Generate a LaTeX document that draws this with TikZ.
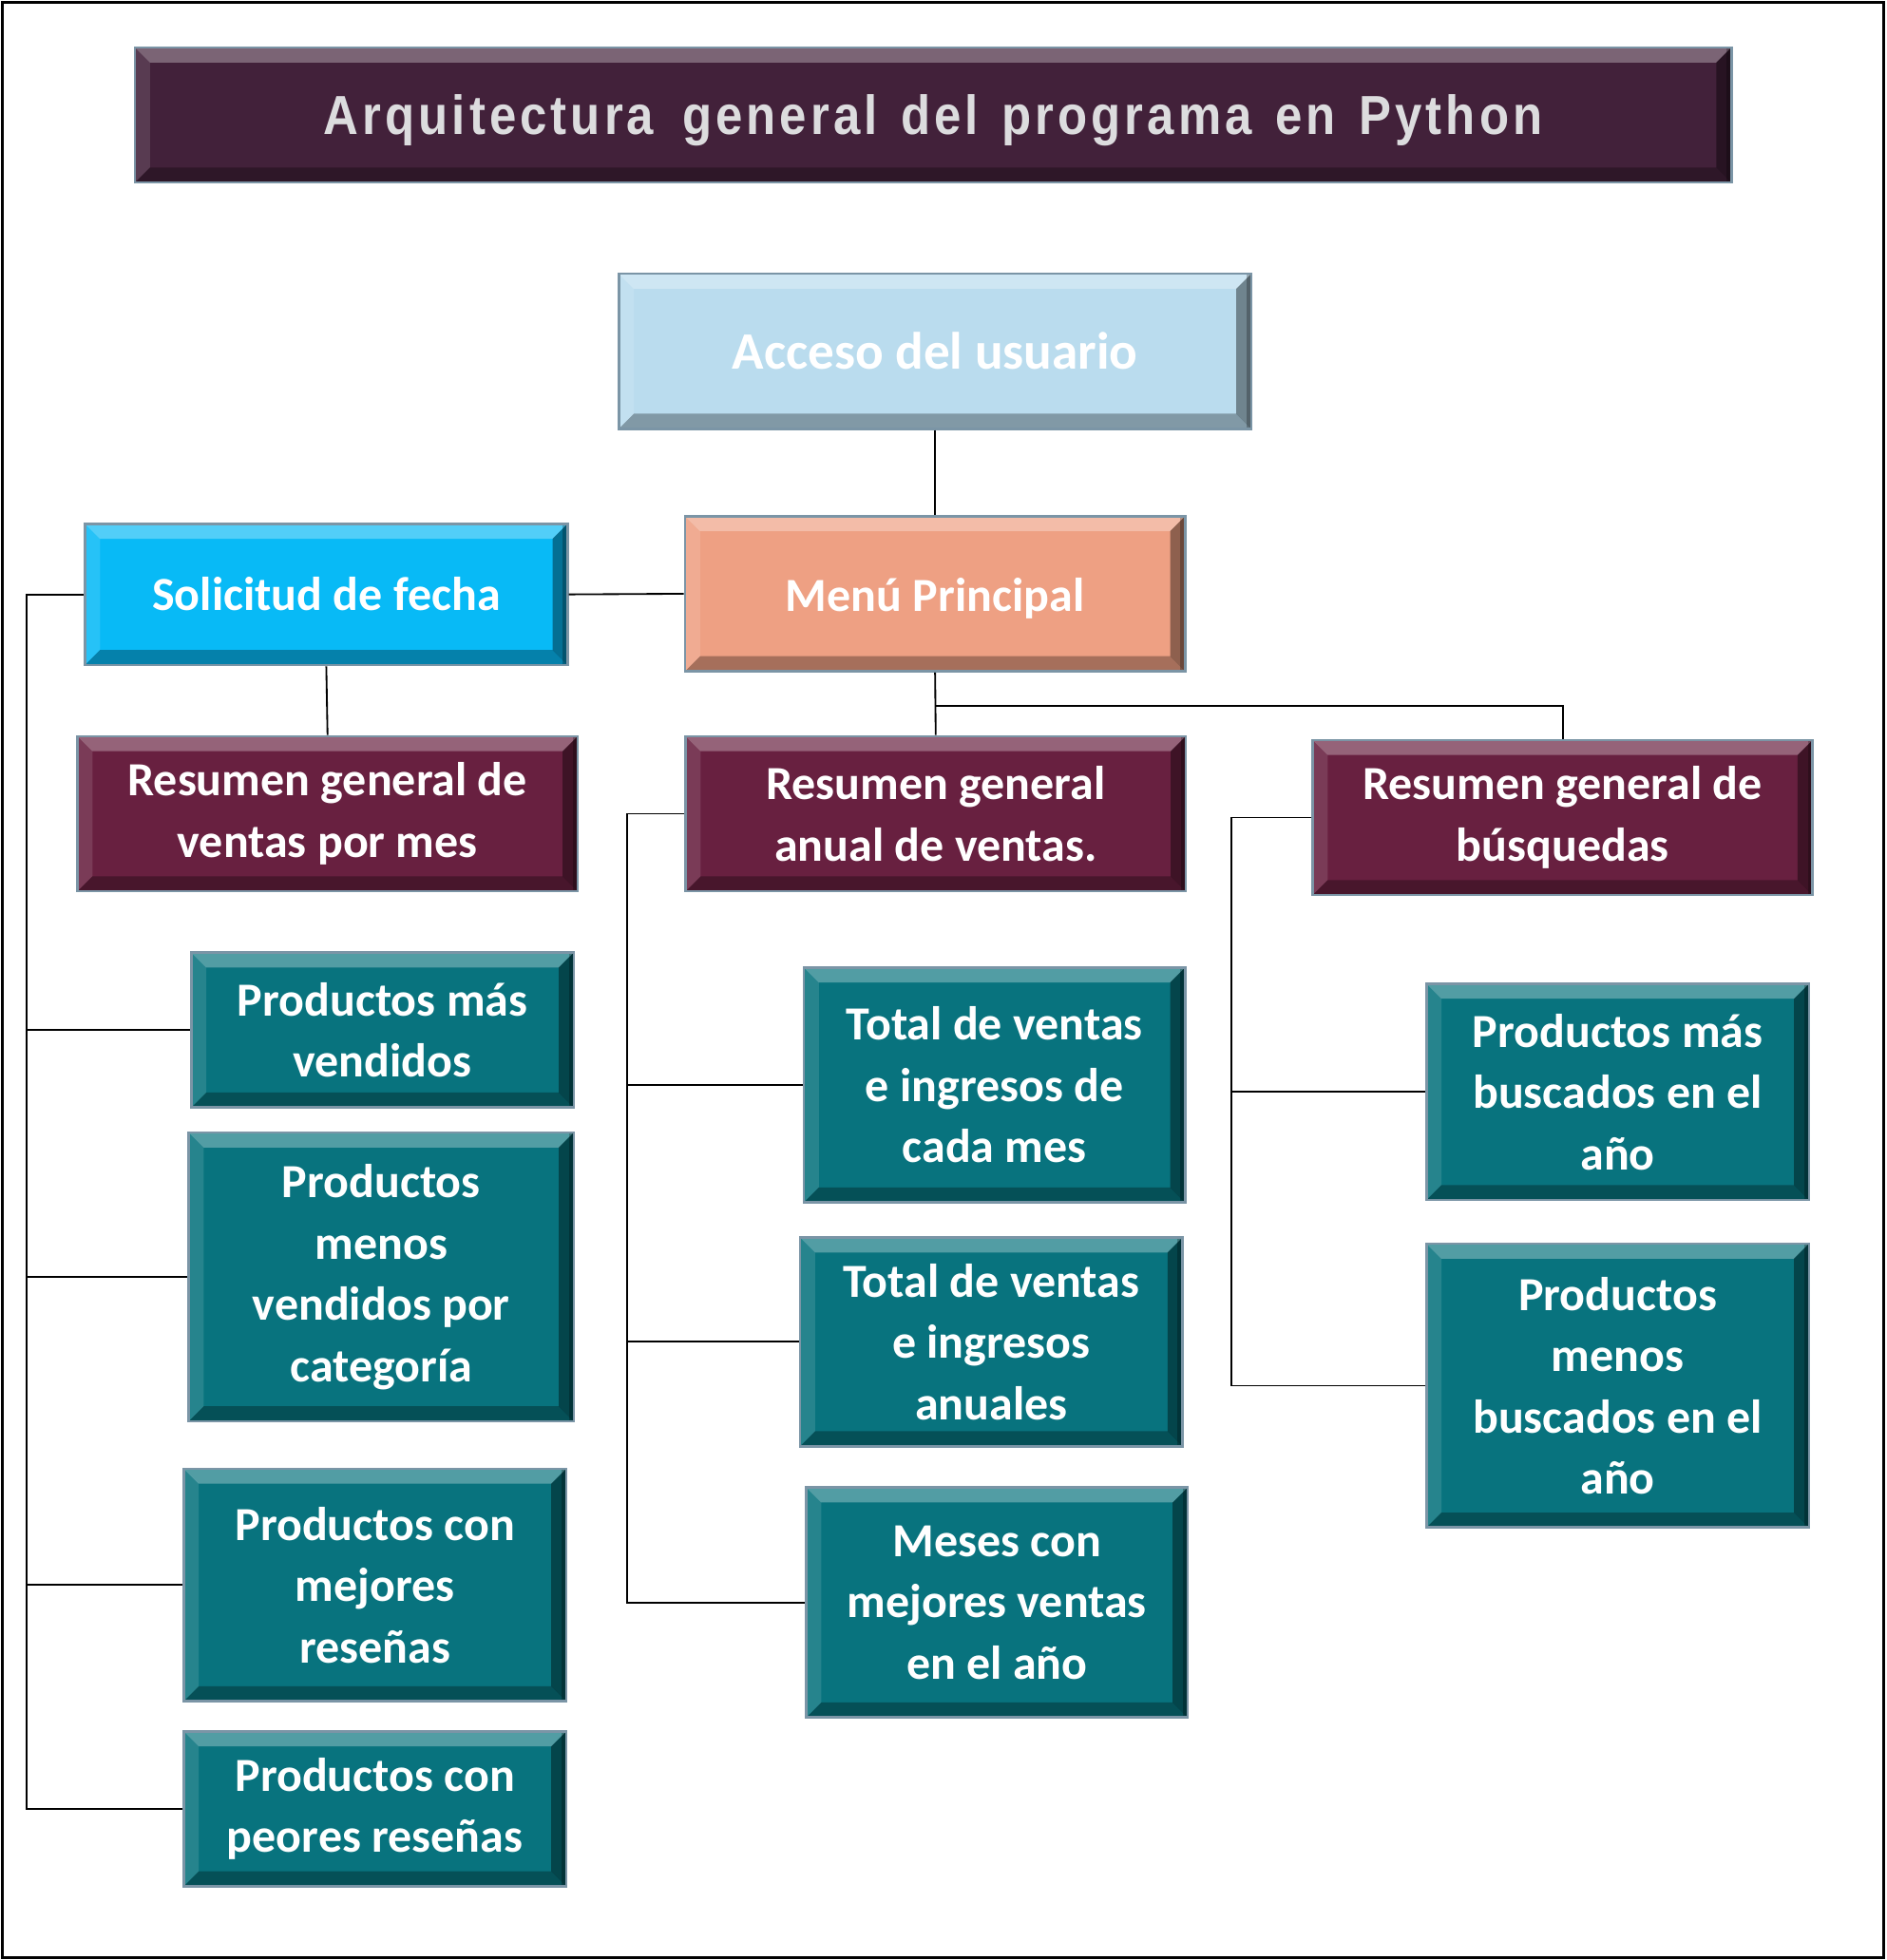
\documentclass[tikz,border=0pt]{standalone}
\usepackage{fontspec}
\setmainfont{Carlito}
\newfontfamily\titlefont[FakeStretch=0.88,LetterSpace=7,WordSpace=1.35]{Liberation Sans}
\usepackage{xcolor}
\usetikzlibrary{positioning, calc}
\definecolor{TitlePlum}{RGB}{66,33,58}
\definecolor{TitleText}{RGB}{220,220,222}
\definecolor{LightBlue}{RGB}{186,220,238}
\definecolor{Salmon}{RGB}{238,160,131}
\definecolor{SkyBlue}{RGB}{8,186,246}
\definecolor{Wine}{RGB}{104,32,64}
\definecolor{Teal}{RGB}{8,115,126}
\definecolor{EdgeGray}{RGB}{123,149,166}
\tikzset{
  % bisel de las cajas
  bevel/.style={path picture={
    \coordinate (bnw) at (path picture bounding box.north west);
    \coordinate (bne) at (path picture bounding box.north east);
    \coordinate (bsw) at (path picture bounding box.south west);
    \coordinate (bse) at (path picture bounding box.south east);
    \fill[white,opacity=.30] (bnw) -- (bne) -- ([shift={(-6pt,-6pt)}]bne) -- ([shift={(6pt,-6pt)}]bnw) -- cycle;
    \fill[white,opacity=.12] (bnw) -- ([shift={(6pt,-6pt)}]bnw) -- ([shift={(6pt,6pt)}]bsw) -- (bsw) -- cycle;
    \fill[black,opacity=.30] (bsw) -- ([shift={(6pt,6pt)}]bsw) -- ([shift={(-6pt,6pt)}]bse) -- (bse) -- cycle;
    \fill[black,opacity=.40] (bne) -- (bse) -- ([shift={(-6pt,6pt)}]bse) -- ([shift={(-6pt,-6pt)}]bne) -- cycle;
    \fill[black,opacity=.25] (bne) -- (bse) -- ([xshift=-2pt]bse) -- ([xshift=-2pt]bne) -- cycle;
  }},
  % cajas
  box/.style={draw=EdgeGray,line width=1pt,bevel,text=white,align=center,inner sep=0pt,
    font=\bfseries\fontsize{19}{24.5}\selectfont},
  box size/.style 2 args={minimum width=#1,minimum height=#2},
  box title/.style={box,fill=TitlePlum,text=TitleText,font=\titlefont\bfseries\fontsize{22}{26}\selectfont},
  box sum/.style={box,fill=Wine},
  box item/.style={box,fill=Teal},
  % conectores
  conn/.style={line width=0.7pt,black}
}
\begin{document}
\begin{tikzpicture}[x=0.5pt,y=-0.5pt]
  \useasboundingbox (0,0) rectangle (1509,1568);
  \draw[line width=1.1pt] (2,2) rectangle (1507,1566);

  \node[box title,box size={638.5pt}{54pt}] (title) at (746.5,92) {\raisebox{-2pt}[\height][\depth]{Arquitectura\hspace{2pt} general del programa en Python}};

  \node[box,fill=LightBlue,box size={253pt}{62pt},font=\bfseries\fontsize{21}{25}\selectfont] (acceso) at (748,281) {Acceso del usuario};
  \node[box,fill=Salmon,box size={200pt}{62pt}] (menu) at (748,475) {\raisebox{-2pt}[\height][\depth]{Menú Principal}};
  \node[box,fill=SkyBlue,box size={193pt}{56.5pt}] (fecha) at (261,475.5) {Solicitud de fecha};

  \node[box sum,box size={200pt}{62pt}] (resmes) at (262,651) {Resumen general de\\ventas por mes};
  \node[box sum,box size={200pt}{62pt}] (resanual) at (748.5,651) {Resumen general\\anual de ventas.};
  \node[box sum,box size={200pt}{62pt}] (resbusq) at (1250,654) {Resumen general de\\búsquedas};

  \node[box item,box size={153pt}{62pt}] (masvend) at (306,824) {Productos más\\vendidos};
  \node[box item,box size={154pt}{115.5pt}] (menosvend) at (305,1021.5) {Productos\\menos\\vendidos por\\categoría};
  \node[box item,box size={153pt}{93pt}] (mejores) at (300,1268) {Productos con\\mejores\\reseñas};
  \node[box item,box size={153pt}{62pt}] (peores) at (300,1447) {Productos con\\peores reseñas};

  \node[box item,box size={152.5pt}{94pt}] (totmes) at (795.5,868) {Total de ventas\\e ingresos de\\cada mes};
  \node[box item,box size={153pt}{83.5pt}] (totanual) at (793,1073.5) {Total de ventas\\e ingresos\\anuales};
  \node[box item,box size={152.5pt}{92pt}] (meses) at (797.5,1282) {Meses con\\mejores ventas\\en el año};

  \node[box item,box size={153pt}{86.5pt}] (masbusc) at (1294,873.5) {Productos más\\buscados en el\\año};
  \node[box item,box size={153pt}{113.5pt}] (menosbusc) at (1294,1108.5) {Productos\\menos\\buscados en el\\año};

  % conexiones superiores
  \draw[conn] (acceso.south) -- (menu.north);
  \draw[conn] (fecha.east) -- (menu.west);
  \draw[conn] (fecha.south) -- (resmes.north);
  \draw[conn] (menu.south) -- (resanual.north);
  \draw[conn] (menu.south) ++(0,27) -| (resbusq.north);

  % rama izquierda
  \draw[conn] (fecha.west) -- ++(-46,0) coordinate (busA) |- (peores.west);
  \foreach \n in {masvend,menosvend,mejores}
    \draw[conn] (busA |- \n.west) -- (\n.west);

  % rama central
  \draw[conn] (resanual.west) -- ++(-46,0) coordinate (busB) |- (meses.west);
  \foreach \n in {totmes,totanual}
    \draw[conn] (busB |- \n.west) -- (\n.west);

  % rama derecha
  \draw[conn] (resbusq.west) -- ++(-64,0) coordinate (busC) |- (menosbusc.west);
  \draw[conn] (busC |- masbusc.west) -- (masbusc.west);
\end{tikzpicture}
\end{document}
